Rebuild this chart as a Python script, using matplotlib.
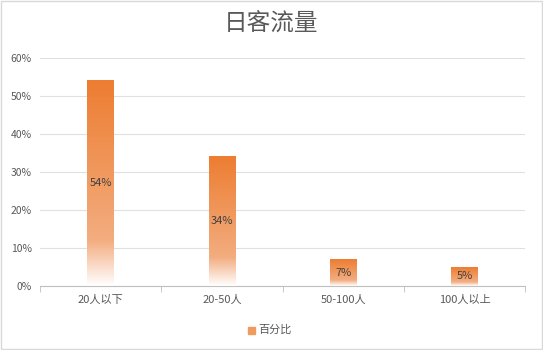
import numpy as np
import matplotlib.pyplot as plt
from matplotlib.colors import LinearSegmentedColormap
from matplotlib.patches import Rectangle

plt.rcParams['font.family'] = ['Noto Sans CJK SC', 'DejaVu Sans']

categories = ['20人以下', '20-50人', '50-100人', '100人以上']
values = [0.54, 0.34, 0.07, 0.05]
labels = ['54%', '34%', '7%', '5%']
yticks = [0, 0.1, 0.2, 0.3, 0.4, 0.5, 0.6]

grad = LinearSegmentedColormap.from_list(
    'bar', [(0.0, '#FFFFFF'), (0.22, '#F3AD80'), (1.0, '#ED7D31')])

fig = plt.figure(figsize=(5.43, 3.5), dpi=100)
ax = fig.add_axes([0.074, 0.183, 0.893, 0.651])

x = np.arange(len(categories))
width = 0.22
bars = ax.bar(x, values, width=width, color='none')
g = np.linspace(0, 1, 256).reshape(-1, 1)
for b, lab in zip(bars, labels):
    x0, h = b.get_x(), b.get_height()
    ax.imshow(g, cmap=grad, origin='lower', aspect='auto', zorder=3,
              extent=(x0, x0 + width, 0, h))
    ax.text(x0 + width / 2, h / 2, lab, ha='center', va='center',
            fontsize=8, color='#404040', zorder=4)

ax.set_xlim(-0.5, len(categories) - 0.5)
ax.set_ylim(0, 0.6)
ax.set_yticks(yticks)
ax.set_yticklabels(['{:.0f}%'.format(v * 100) for v in yticks])
ax.set_xticks(x)
ax.set_xticklabels(categories)
ax.set_xticks(np.arange(len(categories) + 1) - 0.5, minor=True)
ax.tick_params(axis='x', which='major', length=0, pad=6, labelsize=8, labelcolor='#595959')
ax.tick_params(axis='x', which='minor', length=4, color='#BFBFBF')
ax.tick_params(axis='y', length=0, pad=6, labelsize=7.5, labelcolor='#595959')
ax.grid(axis='y', color='#E0E0E0', linewidth=0.8)
ax.set_axisbelow(True)
for s in ['top', 'right', 'left']:
    ax.spines[s].set_visible(False)
ax.spines['bottom'].set_color('#BFBFBF')

fig.text(0.5, 0.93, '日客流量', ha='center', va='center', fontsize=17,
         color='#595959', fontweight='medium')

# legend
fig.patches.append(Rectangle((248 / 543, 1 - 334 / 350), 7 / 543, 7 / 350,
                             transform=fig.transFigure, color='#F09A60'))
fig.text(258 / 543, 1 - 330 / 350, '百分比', ha='left', va='center', fontsize=8, color='#595959')

fig.patches.append(Rectangle((0.001, 0.002), 0.997, 0.996, transform=fig.transFigure,
                             fill=False, edgecolor='#D9D9D9', linewidth=1))

fig.savefig('out.png', dpi=100)
